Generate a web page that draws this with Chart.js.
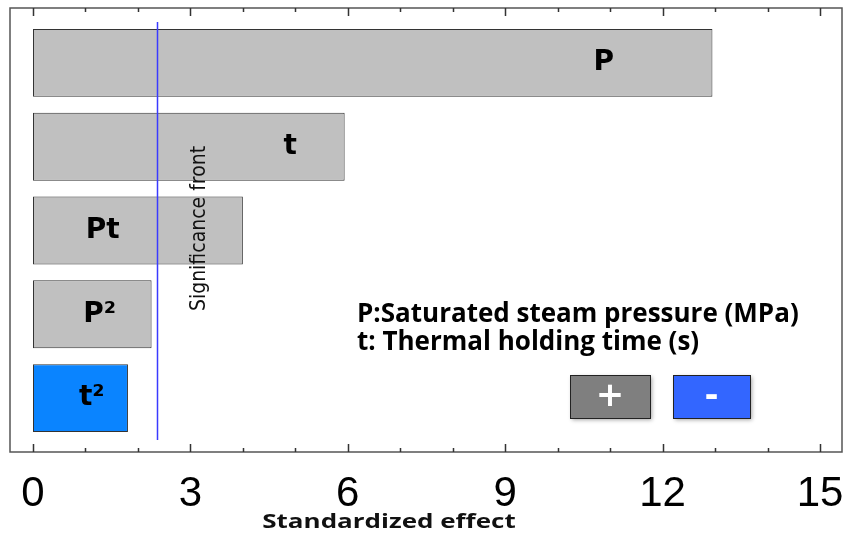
<!DOCTYPE html>
<html>
<head>
<meta charset="utf-8">
<script src="https://cdn.jsdelivr.net/npm/chart.js@4"></script>
<style>
  html, body { margin: 0; padding: 0; background: #fff; }
  #wrap { width: 849px; height: 535px; }
</style>
</head>
<body>
<div id="wrap"><canvas id="chart"></canvas></div>
<script>
// Pareto chart of standardized effects
const factors = ["P", "t", "Pt", "P²", "t²"];
const effects = [12.95, 5.94, 4.0, 2.26, 1.81];
const signs = ["+", "+", "+", "+", "-"];
const xTicks = [0, 3, 6, 9, 12, 15];
const significance = 2.37;
const legendLines = ["P:Saturated steam pressure (MPa)", "t: Thermal holding time (s)"];

const POS = "#c0c0c0";
const NEG = "#0a84ff";

const decor = {
  id: "decor",
  afterDatasetsDraw(chart, args, opts) {
    const { ctx, chartArea: a, scales: { x } } = chart;
    ctx.save();

    // frame around the plot
    const fl = a.left - 23, fr = a.right + 22, ft = a.top - 13, fb = a.bottom + 12;
    ctx.strokeStyle = "#555";
    ctx.lineWidth = 1.5;
    ctx.strokeRect(fl, ft, fr - fl, fb - ft);

    // tick marks on top and bottom edges
    ctx.strokeStyle = "#333";
    ctx.lineWidth = 1.5;
    for (let v = xTicks[0]; v <= xTicks[xTicks.length - 1]; v++) {
      const px = Math.round(x.getPixelForValue(v)) + 0.5;
      const len = v % 3 === 0 ? 8 : 4;
      ctx.beginPath();
      ctx.moveTo(px, ft); ctx.lineTo(px, ft + len);
      ctx.moveTo(px, fb); ctx.lineTo(px, fb - len);
      ctx.stroke();
    }

    // significance line
    const sx = Math.round(x.getPixelForValue(significance)) + 0.5;
    ctx.strokeStyle = "#3a3aff";
    ctx.lineWidth = 1.5;
    ctx.beginPath();
    ctx.moveTo(sx, a.top + 1);
    ctx.lineTo(sx, a.bottom);
    ctx.stroke();

    ctx.save();
    ctx.translate(sx + 42, (a.top + a.bottom) / 2 - 2);
    ctx.rotate(-Math.PI / 2);
    ctx.fillStyle = "#111";
    ctx.font = "21px 'Liberation Sans Narrow', 'DejaVu Sans Condensed', sans-serif";
    ctx.textAlign = "center";
    ctx.textBaseline = "middle";
    ctx.fillText("Significance front", 0, 0);
    ctx.restore();

    // labels inside bars
    const meta = chart.getDatasetMeta(0);
    ctx.fillStyle = "#000";
    ctx.font = "bold 28px 'DejaVu Sans', Verdana, sans-serif";
    ctx.textAlign = "center";
    ctx.textBaseline = "middle";
    meta.data.forEach((bar, i) => {
      ctx.fillText(factors[i], x.getPixelForValue(opts.labelAt[i]), bar.y);
    });

    // legend text
    ctx.font = "bold 26px 'Open Sans', sans-serif";
    ctx.textAlign = "left";
    ctx.textBaseline = "alphabetic";
    legendLines.forEach((s, i) => ctx.fillText(s, 357, 322 + i * 28));

    // sign boxes
    const boxes = [
      { x: 570, w: 80, fill: "#7f7f7f", txt: "+" },
      { x: 673, w: 77, fill: "#3366ff", txt: "-" }
    ];
    boxes.forEach(b => {
      ctx.save();
      ctx.shadowColor = "rgba(0,0,0,0.35)";
      ctx.shadowBlur = 4;
      ctx.shadowOffsetX = 2;
      ctx.shadowOffsetY = 2;
      ctx.fillStyle = b.fill;
      ctx.fillRect(b.x, 375, b.w, 43);
      ctx.restore();
      ctx.strokeStyle = "#222";
      ctx.lineWidth = 1;
      ctx.strokeRect(b.x + 0.5, 375.5, b.w, 43);
      ctx.fillStyle = "#fff";
      ctx.font = "bold 34px 'DejaVu Sans', sans-serif";
      ctx.textAlign = "center";
      ctx.textBaseline = "middle";
      ctx.fillText(b.txt, b.x + b.w / 2, 397);
    });

    // axis title (stretched horizontally like the original)
    ctx.save();
    ctx.translate(389, 528);
    ctx.scale(1.3, 1);
    ctx.fillStyle = "#111";
    ctx.font = "bold 20px 'Open Sans', sans-serif";
    ctx.textAlign = "center";
    ctx.textBaseline = "alphabetic";
    ctx.fillText("Standardized effect", 0, 0);
    ctx.restore();

    ctx.restore();
  }
};

new Chart(document.getElementById("chart").getContext("2d"), {
  type: "bar",
  data: {
    labels: factors,
    datasets: [{
      data: effects,
      backgroundColor: signs.map(s => (s === "+" ? POS : NEG)),
      borderColor: "#333",
      borderWidth: 1,
      borderSkipped: false,
      barPercentage: 0.81,
      categoryPercentage: 1
    }]
  },
  options: {
    indexAxis: "y",
    responsive: true,
    maintainAspectRatio: false,
    animation: false,
    layout: { padding: { left: 33, right: 29, top: 21, bottom: 0 } },
    scales: {
      x: {
        type: "linear",
        min: xTicks[0],
        max: xTicks[xTicks.length - 1],
        afterBuildTicks: axis => { axis.ticks = xTicks.map(v => ({ value: v })); },
        afterFit: axis => {
          axis.height = 95;
          axis.paddingLeft = 0;
          axis.paddingRight = 0;
        },
        grid: { display: false },
        border: { display: false },
        ticks: {
          color: "#000",
          padding: 21,
          font: { family: "'Liberation Sans', Arial, sans-serif", size: 42 }
        }
      },
      y: { type: "category", display: false, offset: true }
    },
    plugins: {
      legend: { display: false },
      tooltip: { enabled: false },
      decor: { labelAt: [10.88, 4.9, 1.33, 1.27, 1.12] }
    }
  },
  plugins: [decor]
});
</script>
</body>
</html>
